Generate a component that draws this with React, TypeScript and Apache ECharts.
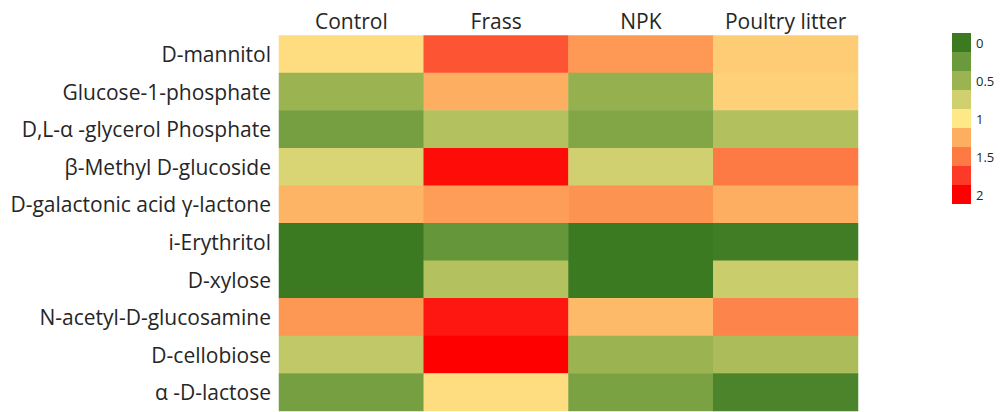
import React, { useEffect, useRef } from "react";
import * as echarts from "echarts";

const treatments = ["Control", "Frass", "NPK", "Poultry litter"];
const compounds = [
  "D-mannitol",
  "Glucose-1-phosphate",
  "D,L-α -glycerol Phosphate",
  "β-Methyl D-glucoside",
  "D-galactonic acid γ-lactone",
  "i-Erythritol",
  "D-xylose",
  "N-acetyl-D-glucosamine",
  "D-cellobiose",
  "α -D-lactose",
];
// values per compound: [Control, Frass, NPK, Poultry litter]
const controlValues = [1.05, 0.5, 0.3, 0.8, 1.22, 0, 0, 1.36, 0.68, 0.3];
const frassValues = [1.65, 1.25, 0.62, 1.95, 1.33, 0.22, 0.62, 1.9, 2, 1.05];
const npkValues = [1.35, 0.47, 0.37, 0.75, 1.38, 0, 0, 1.2, 0.5, 0.33];
const poultryValues = [1.12, 1.1, 0.61, 1.5, 1.25, 0.02, 0.72, 1.45, 0.58, 0.08];

const legendValues = [0, 0.25, 0.5, 0.75, 1, 1.25, 1.5, 1.75, 2];
const legendLabels = ["0", "", "0.5", "", "1", "", "1.5", "", "2"];
const palette = [
  "#3c7a22",
  "#6b9a3c",
  "#9bb350",
  "#d0d070",
  "#fee888",
  "#fdae60",
  "#fd7a44",
  "#fd3a28",
  "#fe0000",
];

export default function App() {
  const ref = useRef<HTMLDivElement>(null);
  useEffect(() => {
    if (!ref.current) return;
    const chart = echarts.init(ref.current, null, { renderer: "svg" });
    const cols = [controlValues, frassValues, npkValues, poultryValues];
    const data: [number, number, number][] = [];
    cols.forEach((vals, xi) => {
      vals.forEach((v, yi) => data.push([xi, yi, v]));
    });
    const font = "'Open Sans', 'Noto Sans', sans-serif";
    chart.setOption({
      animation: false,
      grid: { left: 279, top: 35.5, width: 579, height: 375.5 },
      xAxis: {
        type: "category",
        data: treatments,
        position: "top",
        axisLine: { show: false },
        axisTick: { show: false },
        splitLine: { show: false },
        axisLabel: { color: "#262626", fontSize: 21, fontFamily: font, margin: 4, interval: 0 },
      },
      yAxis: {
        type: "category",
        data: compounds,
        inverse: true,
        axisLine: { show: false },
        axisTick: { show: false },
        splitLine: { show: false },
        axisLabel: { color: "#262626", fontSize: 21, fontFamily: font, margin: 8, interval: 0 },
      },
      visualMap: [
        {
          type: "continuous",
          show: false,
          min: 0,
          max: 2,
          seriesIndex: 0,
          inRange: { color: palette },
        },
        {
          type: "piecewise",
          seriesIndex: 1,
          orient: "vertical",
          align: "left",
          inverse: true,
          left: 952,
          top: 33,
          padding: 0,
          itemWidth: 19,
          itemHeight: 19,
          itemGap: 0,
          itemSymbol: "rect",
          selectedMode: false,
          textGap: 5,
          textStyle: { color: "#262626", fontSize: 13, fontFamily: font },
          pieces: legendValues.map((v, i) => ({
            value: v,
            label: legendLabels[i] === "" ? " " : legendLabels[i],
            color: palette[i],
          })),
        },
      ],
      series: [
        {
          type: "heatmap",
          data,
          itemStyle: { borderWidth: 0 },
          emphasis: { disabled: true },
        },
        {
          type: "heatmap",
          data: [],
        },
      ],
    });
    return () => chart.dispose();
  }, []);
  return (
    <div
      ref={ref}
      style={{ position: "absolute", left: 0, top: 0, width: 1000, height: 412, background: "#fff" }}
    />
  );
}
